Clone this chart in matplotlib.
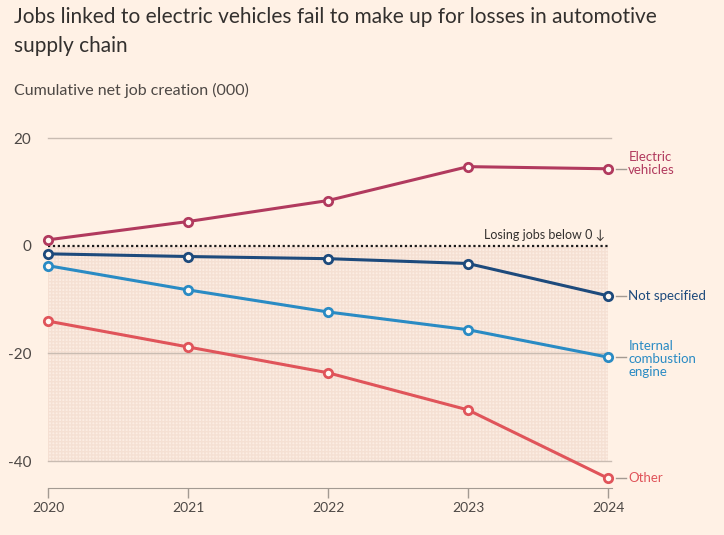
import matplotlib.pyplot as plt
import numpy as np

BG = "#fff1e5"
years = [2020, 2021, 2022, 2023, 2024]
ev = [1.1, 4.5, 8.4, 14.7, 14.3]
not_specified = [-1.5, -2.0, -2.4, -3.3, -9.3]
ice = [-3.7, -8.2, -12.3, -15.6, -20.7]
other = [-14.0, -18.8, -23.6, -30.5, -43.2]

series = [
    ("Electric\nvehicles", ev, "#b13a5e"),
    ("Not specified", not_specified, "#1d4a7c"),
    ("Internal\ncombustion\nengine", ice, "#2a8bc4"),
    ("Other", other, "#e0545a"),
]
yticks = [20, 0, -20, -40]

plt.rcParams["font.family"] = ["Lato", "DejaVu Sans"]
plt.rcParams["hatch.linewidth"] = 1.0

fig = plt.figure(figsize=(7.24, 5.35), dpi=100, facecolor=BG)
ax = fig.add_axes([0.0663, 0.0879, 0.7735, 0.659])
ax.set_facecolor(BG)
ax.set_xlim(2020, 2024)
ax.set_ylim(-45, 20.5)

# shaded "losing jobs" zone
ax.fill_between([2020, 2024], 0, -40, facecolor="#fcede3", edgecolor="#f5e0d3",
                hatch="+++++", linewidth=0, zorder=0)

for yv in yticks:
    if yv != 0:
        ax.plot([2020, 2024.02], [yv, yv], color="#c9bcb2", lw=1, zorder=1, clip_on=False)
ax.plot([2020, 2024], [0, 0], color="#1a1a1a", lw=1.6, ls=(0, (1, 1.2)), zorder=2)
ax.text(2023.98, 0.9, "Losing jobs below 0 \u2193", ha="right", va="bottom",
        fontsize=9, color="#33302e")

for name, vals, col in series:
    ax.plot(years, vals, color=col, lw=2.2, marker="o", ms=6, mfc="#fff8f2",
            mec=col, mew=2, zorder=4, clip_on=False)
    ax.plot([2024.06, 2024.13], [vals[-1], vals[-1]], color="#a39a92", lw=1, clip_on=False)
    ly, va = vals[-1], "center"
    if name.startswith("Electric"):
        ly = vals[-1] + 1.0
    if name.startswith("Internal"):
        ly = vals[-1] + 3.2
        va = "top"
    ax.text(2024.145, ly, name, color=col, fontsize=9.5, va=va, ha="left",
            linespacing=1.1, clip_on=False)

ax.set_yticks(yticks)
ax.set_yticklabels([str(v) for v in yticks], fontsize=11, color="#4d4845")
ax.tick_params(axis="y", length=0, pad=12)
ax.set_xticks(years)
ax.set_xticklabels([str(y) for y in years], fontsize=10, color="#4d4845")
ax.tick_params(axis="x", length=7, color="#a39a92", width=1, pad=3)
for s in ["top", "right", "left"]:
    ax.spines[s].set_visible(False)
ax.spines["bottom"].set_color("#a39a92")
ax.spines["bottom"].set_bounds(2020, 2024.03)

H = 535
fig.text(0.019, 1 - 23 / H, "Jobs linked to electric vehicles fail to make up for losses in automotive",
         fontsize=15, color="#33302e", va="baseline", ha="left")
fig.text(0.019, 1 - 52 / H, "supply chain",
         fontsize=15, color="#33302e", va="baseline", ha="left")
fig.text(0.019, 1 - 95 / H, "Cumulative net job creation (000)", fontsize=11.5,
         color="#4d4845", va="baseline", ha="left")

fig.savefig("out.png", dpi=100, facecolor=BG)
